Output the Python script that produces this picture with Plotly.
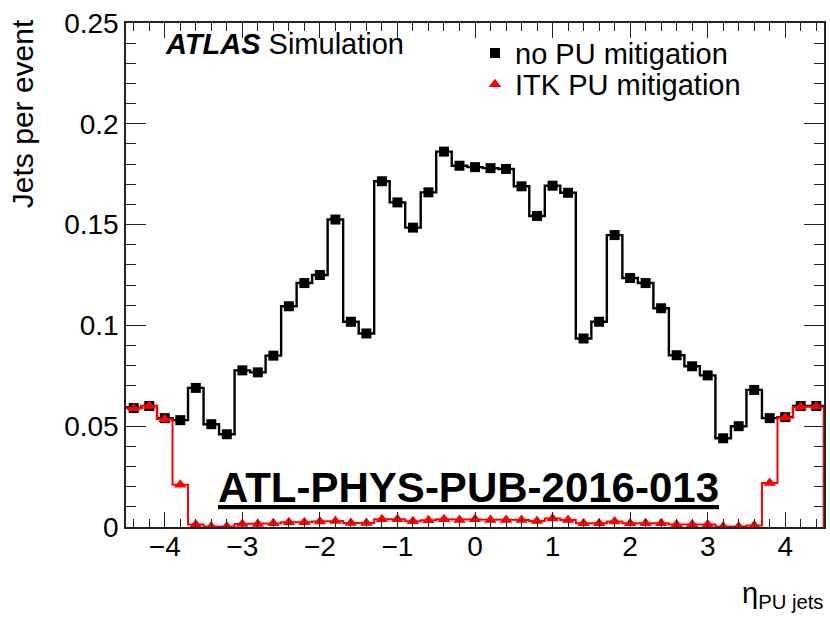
import numpy as np
import plotly.graph_objects as go

# Bin centres (eta), bin width 0.2
eta_centers = [-4.4, -4.2, -4.0, -3.8, -3.6, -3.4, -3.2, -3.0, -2.8, -2.6,
               -2.4, -2.2, -2.0, -1.8, -1.6, -1.4, -1.2, -1.0, -0.8, -0.6,
               -0.4, -0.2, 0.0, 0.2, 0.4, 0.6, 0.8, 1.0, 1.2, 1.4,
               1.6, 1.8, 2.0, 2.2, 2.4, 2.6, 2.8, 3.0, 3.2, 3.4,
               3.6, 3.8, 4.0, 4.2, 4.4]
bin_width = 0.2

no_pu_mitigation = [0.059, 0.060, 0.054, 0.053, 0.069, 0.051, 0.046, 0.0777, 0.0767, 0.085,
                    0.1095, 0.121, 0.125, 0.1525, 0.1018, 0.096, 0.1715, 0.161, 0.1485, 0.166,
                    0.1862, 0.1792, 0.1785, 0.178, 0.1776, 0.169, 0.1543, 0.1693, 0.1658, 0.0935,
                    0.1018, 0.1448, 0.1235, 0.121, 0.1085, 0.0852, 0.0797, 0.0752, 0.0440, 0.050,
                    0.068, 0.054, 0.0545, 0.060, 0.060]

itk_pu_mitigation = [0.0589, 0.060, 0.0535, 0.021, 0.0012, 0.0003, 0.0003, 0.0015, 0.0015, 0.0018,
                     0.0023, 0.0023, 0.0027, 0.003, 0.002, 0.002, 0.0038, 0.0038, 0.0028, 0.0033,
                     0.0038, 0.0035, 0.0038, 0.0035, 0.0035, 0.0035, 0.003, 0.0042, 0.0035, 0.0018,
                     0.0018, 0.0027, 0.0018, 0.0018, 0.0018, 0.0013, 0.0013, 0.0013, 0.0002, 0.0002,
                     0.0008, 0.0218, 0.0543, 0.0595, 0.0598]

series_names = ["no PU mitigation", "ITK PU mitigation"]
x_ticks = [-4, -3, -2, -1, 0, 1, 2, 3, 4]
y_ticks = [0, 0.05, 0.1, 0.15, 0.2, 0.25]


def hist_outline(centers, values, width):
    c = np.asarray(centers, dtype=float)
    lo = c - width / 2
    hi = c + width / 2
    xs, ys = [], []
    for a, b, v in zip(lo, hi, values):
        xs += [a, b]
        ys += [v, v]
    xs.append(hi[-1]); ys.append(0.0)
    return xs, ys


FONT = "Liberation Sans, Arial, Helvetica, sans-serif"
fig = go.Figure()

for vals, name, color, sym, msize, lw, leg in [
    (no_pu_mitigation, series_names[0], "black", "square", 10, 2.4, "legend"),
    (itk_pu_mitigation, series_names[1], "#ff0000", "triangle-up", 11, 2.0, "legend2"),
]:
    xs, ys = hist_outline(eta_centers, vals, bin_width)
    fig.add_trace(go.Scatter(x=xs, y=ys, mode="lines",
                             line=dict(color=color, width=lw),
                             showlegend=False, hoverinfo="skip"))
    fig.add_trace(go.Scatter(x=eta_centers, y=vals, mode="markers", name=name,
                             legend=leg,
                             marker=dict(symbol=sym, size=msize, color=color,
                                         line=dict(width=0))))

axis_common = dict(
    showgrid=False, zeroline=False, showline=True, linecolor="#222222",
    linewidth=1.5, mirror="allticks", ticks="inside", tickcolor="#222222",
    tickfont=dict(family=FONT, size=28, color="black"),
)

fig.update_xaxes(range=[-4.5, 4.5], tickvals=x_ticks, ticklen=15, tickwidth=1.3,
                 ticklabelstandoff=-6,
                 minor=dict(dtick=0.2, ticks="inside", ticklen=8, tickcolor="#222222",
                            tickwidth=1.2),
                 **axis_common)
fig.update_yaxes(range=[0, 0.25], tickvals=y_ticks, ticklen=20, tickwidth=1.3,
                 minor=dict(dtick=0.01, ticks="inside", ticklen=10, tickcolor="#222222",
                            tickwidth=1.2),
                 **axis_common)

legend_common = dict(xanchor="left", yanchor="top", bgcolor="rgba(0,0,0,0)",
                     font=dict(family=FONT, size=29, color="black"),
                     itemsizing="trace")

fig.update_layout(
    width=830, height=617,
    margin=dict(l=126, r=4, t=23, b=90),
    paper_bgcolor="white", plot_bgcolor="white",
    font=dict(family=FONT, color="black"),
    legend=dict(x=0.5, y=0.991, **legend_common),
    legend2=dict(x=0.5, y=0.929, **legend_common),
    annotations=[
        dict(text="<b><i>ATLAS</i></b> Simulation", xref="paper", yref="paper",
             x=0.053, y=0.958, xanchor="left", yanchor="middle", showarrow=False,
             font=dict(family=FONT, size=29, color="black")),
        dict(text="<b>ATL-PHYS-PUB-2016-013</b>", xref="paper", yref="paper",
             x=0.491, y=0.079, xanchor="center", yanchor="middle", showarrow=False,
             font=dict(family=FONT, size=42, color="black", lineposition="under")),
        dict(text="η<sub>PU jets</sub>", xref="paper", yref="paper",
             x=1.003, y=-0.135, xanchor="right", yanchor="middle", showarrow=False,
             font=dict(family=FONT, size=29, color="black")),
        dict(text="Jets per event", xref="paper", yref="paper", textangle=-90,
             x=-0.148, y=1.012, xanchor="center", yanchor="top", showarrow=False,
             font=dict(family=FONT, size=30, color="black")),
    ],
)

fig.write_html("out.html")
